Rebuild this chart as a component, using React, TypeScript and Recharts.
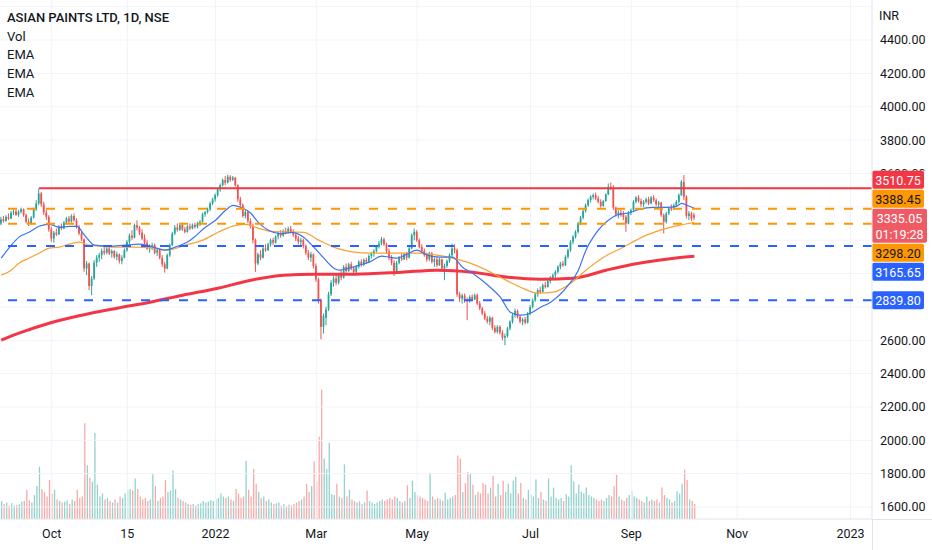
import React from 'react';
import { ComposedChart, Bar, Line, XAxis, YAxis, CartesianGrid, ReferenceLine, Cell } from 'recharts';

// daily candles, one row per session: [open, high, low, close]
const ohlc: [number, number, number, number][] = [
  [3300, 3340, 3290, 3325], [3325, 3345, 3305, 3315], [3315, 3350, 3310, 3340], [3340, 3360, 3320, 3330],
  [3330, 3375, 3325, 3365], [3365, 3385, 3350, 3372], [3372, 3392, 3345, 3352], [3352, 3380, 3340, 3370],
  [3370, 3395, 3360, 3385], [3385, 3390, 3340, 3350], [3350, 3360, 3300, 3310], [3310, 3330, 3285, 3300],
  [3300, 3345, 3295, 3335], [3335, 3395, 3330, 3385], [3385, 3440, 3375, 3420], [3420, 3510.75, 3410, 3480],
  [3480, 3490, 3400, 3415], [3415, 3430, 3350, 3365], [3365, 3385, 3320, 3340], [3340, 3350, 3250, 3265],
  [3265, 3280, 3190, 3210], [3210, 3255, 3185, 3245], [3245, 3270, 3225, 3235], [3235, 3290, 3230, 3282],
  [3282, 3300, 3260, 3270], [3270, 3315, 3265, 3305], [3305, 3340, 3295, 3330], [3330, 3345, 3300, 3312],
  [3312, 3355, 3305, 3345], [3345, 3360, 3310, 3320], [3320, 3330, 3270, 3280], [3280, 3290, 3230, 3240],
  [3240, 3250, 3195, 3205], [3205, 3210, 3010, 3030], [3030, 3075, 2990, 3060], [3060, 3065, 2900, 2925],
  [2925, 2985, 2870, 2970], [2970, 3080, 2960, 3065], [3065, 3110, 3040, 3095], [3095, 3125, 3070, 3110],
  [3110, 3150, 3085, 3135], [3135, 3160, 3110, 3125], [3125, 3165, 3115, 3150], [3150, 3160, 3110, 3120],
  [3120, 3145, 3095, 3135], [3135, 3140, 3090, 3100], [3100, 3130, 3080, 3115], [3115, 3120, 3060, 3075],
  [3075, 3110, 3055, 3095], [3095, 3150, 3090, 3140], [3140, 3200, 3130, 3190], [3190, 3240, 3175, 3228],
  [3228, 3260, 3200, 3215], [3215, 3300, 3210, 3290], [3290, 3320, 3260, 3275], [3275, 3285, 3230, 3245],
  [3245, 3265, 3200, 3210], [3210, 3235, 3170, 3185], [3185, 3200, 3140, 3150], [3150, 3175, 3125, 3160],
  [3160, 3185, 3140, 3170], [3170, 3180, 3115, 3125], [3125, 3150, 3105, 3140], [3140, 3150, 3085, 3095],
  [3095, 3110, 3040, 3055], [3055, 3070, 3005, 3030], [3030, 3120, 3025, 3110], [3110, 3180, 3100, 3170],
  [3170, 3250, 3165, 3240], [3240, 3290, 3230, 3275], [3275, 3300, 3250, 3262], [3262, 3300, 3255, 3290],
  [3290, 3305, 3255, 3265], [3265, 3280, 3240, 3250], [3250, 3290, 3245, 3282], [3282, 3300, 3260, 3270],
  [3270, 3300, 3265, 3292], [3292, 3305, 3270, 3280], [3280, 3310, 3270, 3300], [3300, 3320, 3285, 3310],
  [3310, 3365, 3305, 3355], [3355, 3375, 3340, 3368], [3368, 3395, 3360, 3385], [3385, 3430, 3375, 3420],
  [3420, 3455, 3410, 3445], [3445, 3480, 3430, 3470], [3470, 3515, 3460, 3505], [3505, 3540, 3490, 3530],
  [3530, 3570, 3520, 3560], [3560, 3585, 3530, 3545], [3545, 3593, 3540, 3580], [3580, 3590, 3550, 3562],
  [3562, 3585, 3555, 3575], [3575, 3580, 3520, 3530], [3530, 3535, 3430, 3445], [3445, 3460, 3395, 3410],
  [3410, 3420, 3335, 3345], [3345, 3380, 3330, 3370], [3370, 3375, 3300, 3315], [3315, 3330, 3270, 3285],
  [3285, 3300, 3180, 3200], [3200, 3210, 3010, 3060], [3060, 3125, 3050, 3115], [3115, 3140, 3080, 3095],
  [3095, 3160, 3090, 3150], [3150, 3175, 3130, 3140], [3140, 3185, 3135, 3175], [3175, 3210, 3160, 3200],
  [3200, 3215, 3170, 3185], [3185, 3230, 3180, 3222], [3222, 3250, 3205, 3240], [3240, 3260, 3215, 3228],
  [3228, 3265, 3220, 3255], [3255, 3275, 3235, 3245], [3245, 3280, 3240, 3268], [3268, 3285, 3240, 3250],
  [3250, 3265, 3220, 3232], [3232, 3245, 3195, 3210], [3210, 3225, 3175, 3190], [3190, 3215, 3170, 3200],
  [3200, 3210, 3150, 3165], [3165, 3175, 3110, 3125], [3125, 3140, 3080, 3095], [3095, 3130, 3070, 3115],
  [3115, 3120, 3030, 3045], [3045, 3060, 2950, 2965], [2965, 2975, 2820, 2840], [2840, 2850, 2605, 2680],
  [2680, 2760, 2640, 2745], [2735, 2800, 2690, 2785], [2785, 2890, 2775, 2875], [2875, 2960, 2865, 2945],
  [2945, 2985, 2920, 2970], [2970, 2990, 2930, 2945], [2945, 3000, 2935, 2990], [2990, 3020, 2960, 2975],
  [2975, 3050, 2970, 3040], [3040, 3060, 3005, 3015], [3015, 3065, 3010, 3055], [3055, 3070, 3020, 3030],
  [3030, 3045, 2995, 3010], [3010, 3050, 3000, 3040], [3040, 3080, 3030, 3070], [3070, 3085, 3040, 3052],
  [3052, 3090, 3045, 3082], [3082, 3095, 3060, 3070], [3070, 3115, 3065, 3105], [3105, 3130, 3090, 3120],
  [3120, 3145, 3100, 3135], [3135, 3170, 3125, 3160], [3160, 3195, 3150, 3180], [3180, 3220, 3170, 3205],
  [3205, 3215, 3165, 3175], [3175, 3185, 3120, 3135], [3135, 3150, 3080, 3095], [3095, 3110, 3050, 3065],
  [3065, 3080, 2985, 3010], [3010, 3075, 3000, 3065], [3065, 3105, 3055, 3095], [3095, 3120, 3075, 3085],
  [3085, 3125, 3080, 3115], [3115, 3130, 3080, 3095], [3095, 3160, 3090, 3150], [3150, 3240, 3145, 3230],
  [3230, 3270, 3200, 3250], [3250, 3260, 3190, 3200], [3200, 3210, 3150, 3160], [3160, 3175, 3120, 3135],
  [3135, 3150, 3100, 3110], [3110, 3125, 3070, 3085], [3085, 3130, 3075, 3120], [3120, 3130, 3060, 3070],
  [3070, 3095, 3040, 3085], [3085, 3100, 3040, 3050], [3050, 3095, 3045, 3085], [3085, 3090, 3020, 3030],
  [3030, 3060, 2960, 3045], [3045, 3085, 3035, 3075], [3075, 3120, 3065, 3110], [3110, 3180, 3100, 3150],
  [3150, 3175, 3120, 3140], [3140, 3150, 2860, 2875], [2875, 2890, 2830, 2850], [2850, 2880, 2820, 2868],
  [2868, 2880, 2825, 2840], [2840, 2855, 2720, 2835], [2835, 2870, 2825, 2860], [2860, 2875, 2835, 2845],
  [2845, 2880, 2840, 2870], [2870, 2880, 2810, 2820], [2820, 2835, 2780, 2790], [2790, 2800, 2750, 2760],
  [2760, 2775, 2720, 2730], [2730, 2745, 2700, 2712], [2712, 2745, 2690, 2735], [2735, 2740, 2660, 2675],
  [2675, 2690, 2640, 2650], [2650, 2690, 2640, 2680], [2680, 2690, 2635, 2645], [2645, 2660, 2600, 2615],
  [2615, 2640, 2570, 2625], [2625, 2680, 2615, 2670], [2670, 2720, 2660, 2710], [2710, 2760, 2700, 2750],
  [2750, 2790, 2735, 2775], [2775, 2785, 2730, 2740], [2740, 2750, 2700, 2712], [2712, 2735, 2690, 2725],
  [2725, 2740, 2695, 2705], [2705, 2770, 2700, 2760], [2760, 2810, 2750, 2800], [2800, 2850, 2790, 2840],
  [2840, 2885, 2830, 2875], [2875, 2910, 2860, 2900], [2900, 2920, 2880, 2890], [2890, 2940, 2885, 2930],
  [2930, 2950, 2910, 2920], [2920, 2965, 2915, 2955], [2955, 2985, 2940, 2975], [2975, 3000, 2960, 2990],
  [2990, 3020, 2975, 3010], [3010, 3050, 3000, 3040], [3040, 3070, 3025, 3060], [3060, 3075, 3040, 3050],
  [3050, 3110, 3045, 3100], [3100, 3150, 3090, 3140], [3140, 3200, 3130, 3190], [3190, 3230, 3175, 3220],
  [3220, 3260, 3210, 3250], [3250, 3310, 3240, 3300], [3300, 3345, 3290, 3335], [3335, 3385, 3325, 3375],
  [3375, 3420, 3365, 3410], [3410, 3450, 3400, 3440], [3440, 3470, 3425, 3460], [3460, 3480, 3445, 3470],
  [3470, 3485, 3440, 3450], [3450, 3465, 3420, 3430], [3430, 3445, 3395, 3405], [3405, 3440, 3400, 3435],
  [3435, 3480, 3430, 3475], [3475, 3540, 3470, 3520], [3520, 3545, 3500, 3515], [3515, 3530, 3380, 3395],
  [3395, 3400, 3340, 3355], [3355, 3380, 3330, 3365], [3365, 3385, 3340, 3350], [3350, 3375, 3320, 3340],
  [3340, 3350, 3250, 3300], [3300, 3375, 3295, 3365], [3365, 3390, 3350, 3380], [3380, 3440, 3375, 3430],
  [3430, 3465, 3420, 3455], [3455, 3470, 3425, 3435], [3435, 3450, 3400, 3415], [3415, 3440, 3400, 3430],
  [3430, 3455, 3420, 3445], [3445, 3460, 3410, 3420], [3420, 3465, 3415, 3455], [3455, 3470, 3430, 3440],
  [3440, 3450, 3405, 3415], [3415, 3435, 3395, 3425], [3425, 3430, 3340, 3350], [3350, 3360, 3240, 3310],
  [3310, 3370, 3300, 3360], [3360, 3400, 3350, 3392], [3392, 3415, 3375, 3385], [3385, 3420, 3380, 3410],
  [3410, 3440, 3400, 3430], [3430, 3480, 3420, 3470], [3470, 3560, 3465, 3550], [3550, 3590, 3440, 3460],
  [3460, 3470, 3330, 3345], [3345, 3375, 3320, 3360], [3360, 3370, 3315, 3330], [3350, 3365, 3320, 3335.05],
];

// traded volume per session, thousand shares
const volumes: number[] = [
  1200, 1000, 1100, 900, 1050, 900, 950, 1000, 1150, 1200,
  1950, 1250, 1100, 1600, 2200, 3500, 2000, 1800, 1500, 2600,
  1700, 1950, 1300, 1200, 1100, 1150, 1250, 1000, 1300, 1200,
  1950, 1400, 1500, 6400, 3600, 2750, 2500, 5750, 2300, 1500,
  1700, 1300, 1400, 1200, 1100, 1300, 1100, 1500, 1400, 1700,
  1950, 2000, 1900, 2700, 2000, 1500, 1300, 1400, 1200, 1300,
  3000, 2200, 1200, 1400, 1500, 2600, 1800, 1900, 3250, 2000,
  1400, 1300, 1200, 1100, 1000, 950, 1000, 900, 1000, 1050,
  1200, 1100, 1150, 1250, 1200, 1300, 1400, 1700, 1500, 1400,
  1500, 1300, 1200, 2000, 1700, 1400, 1500, 3900, 1950, 1500,
  3350, 2350, 1800, 1400, 1500, 1200, 1300, 1100, 1000, 1050,
  1100, 900, 1000, 850, 950, 900, 1000, 1100, 1200, 1300,
  1500, 2350, 1800, 2200, 3850, 2500, 5500, 8650, 4050, 3350,
  5100, 1650, 1600, 2350, 1500, 1400, 3650, 1500, 1950, 1300,
  1200, 1100, 1200, 1000, 1100, 1900, 1200, 1100, 1000, 1100,
  1200, 1300, 1200, 1300, 1400, 1300, 1500, 1400, 1200, 1100,
  1200, 2250, 1400, 2550, 1800, 1600, 1500, 1400, 1300, 1200,
  3100, 1500, 1300, 1400, 1300, 1200, 1750, 1300, 1400, 1500,
  1600, 4250, 4050, 1800, 2400, 3150, 3000, 2300, 1600, 1800,
  1700, 2400, 2300, 1700, 2100, 2900, 1500, 2350, 1600, 2550,
  1800, 2350, 1700, 2550, 2800, 1700, 2400, 1400, 1300, 1950,
  1600, 1500, 2650, 1400, 1800, 1300, 1200, 2700, 1500, 2100,
  1400, 1300, 1400, 1200, 1650, 1500, 3600, 2500, 1700, 2300,
  1800, 1700, 2100, 1600, 1500, 1400, 1300, 1200, 1300, 1200,
  1400, 1600, 1500, 2200, 2950, 1500, 1300, 1200, 1400, 1600,
  1850, 1500, 1400, 1300, 1200, 1100, 1500, 1200, 1300, 1200,
  1300, 1100, 2100, 1600, 1400, 1300, 1100, 1200, 1850, 1700,
  2350, 3300, 2600, 1300, 1200, 1000,
];

// EMA readings taken off the lines: [session, value]
const emaFast: [number, number][] = [
  [0, 3092], [4, 3170], [7, 3218], [11, 3247], [15, 3283], [19, 3295], [23, 3277], [27, 3283], [30, 3283],
  [33, 3230], [37, 3170], [43, 3164], [49, 3170], [55, 3176], [59, 3164], [65, 3140], [69, 3158], [75, 3200],
  [81, 3277], [85, 3319], [89, 3379], [92, 3409], [95, 3397], [99, 3361], [102, 3307], [106, 3259], [111, 3238],
  [115, 3247], [120, 3218], [124, 3158], [128, 3092], [132, 3032], [134, 3020], [138, 3032], [142, 3050],
  [146, 3068], [151, 3104], [154, 3098], [157, 3092], [161, 3116], [165, 3140], [169, 3110], [174, 3098],
  [179, 3098], [183, 3038], [187, 3002], [194, 2918], [198, 2858], [202, 2768], [206, 2750], [210, 2762],
  [214, 2798], [218, 2828], [225, 2930], [229, 3020], [232, 3140], [236, 3242], [242, 3331], [244, 3349],
  [250, 3367], [253, 3385], [259, 3397], [264, 3397], [268, 3403], [270, 3421], [272, 3409], [275, 3391],
];
const emaMid: [number, number][] = [
  [0, 2990], [4, 3020], [7, 3062], [11, 3092], [15, 3122], [19, 3152], [23, 3158], [27, 3176], [31, 3188],
  [35, 3170], [39, 3164], [44, 3158], [50, 3158], [53, 3158], [61, 3152], [66, 3140], [73, 3170], [80, 3200],
  [86, 3247], [93, 3289], [97, 3295], [102, 3271], [107, 3253], [120, 3247], [126, 3200], [133, 3152],
  [140, 3128], [146, 3122], [153, 3122], [159, 3122], [166, 3122], [173, 3110], [179, 3092], [186, 3062],
  [190, 3038], [198, 2978], [206, 2918], [213, 2882], [219, 2888], [226, 2942], [232, 3020], [239, 3098],
  [246, 3152], [252, 3200], [256, 3230], [264, 3271], [269, 3289], [273, 3301], [275, 3307],
];
const emaSlow: [number, number][] = [
  [0, 2600], [7, 2642], [19, 2702], [32, 2750], [46, 2792], [59, 2828], [72, 2870], [86, 2912], [99, 2960],
  [112, 2990], [124, 2996], [140, 2996], [159, 3008], [173, 3020], [187, 3008], [201, 2978], [214, 2966],
  [227, 2972], [240, 3020], [253, 3062], [267, 3092], [275, 3104],
];

const timeTicks = [20, 50, 85, 125, 165, 210, 250, 292, 337];
const timeLabels = ['Oct', '15', '2022', 'Mar', 'May', 'Jul', 'Sep', 'Nov', '2023'];
const priceTicks = [1600, 1800, 2000, 2200, 2400, 2600, 3600, 3800, 4000, 4200, 4400];
const gridPrices = [1600, 1800, 2000, 2200, 2400, 2600, 2800, 3000, 3200, 3400, 3600, 3800, 4000, 4200, 4400, 4600];

const resistance = 3510.75;
const resistanceFrom = 15;
const orangeLevels = [3388.45, 3298.2];
const blueLevels = [3165.65, 2839.8];
const lastPrice = 3335.05;
const countdown = '01:19:28';

const FONT = 'Roboto, "Noto Sans", sans-serif';
const UP = '#26a69a';
const DOWN = '#ef5350';
const RED = '#f23645';
const ORANGE = '#ff9800';
const BLUE = '#2962ff';
const BORDER = '#e0e3eb';

const W = 932;
const H = 550;
const AXIS_W = 60;
const AXIS_H = 31;
const PLOT_W = W - AXIS_W;
const PLOT_H = H - AXIS_H;
const P_MIN = 1528;
const P_MAX = 4640;
const X_DOMAIN: [number, number] = [-0.5, 345.5];

type Row = {
  i: number; o: number; h: number; l: number; c: number;
  range: [number, number]; v: number; up: boolean;
  fast: number | null; mid: number | null; slow: number | null;
};

const rows: Row[] = ohlc.map(([o, h, l, c], i) => ({
  i, o, h, l, c, range: [l, h], v: volumes[i], up: c >= o, fast: null, mid: null, slow: null,
}));
emaFast.forEach(([i, v]) => { rows[i].fast = v; });
emaMid.forEach(([i, v]) => { rows[i].mid = v; });
emaSlow.forEach(([i, v]) => { rows[i].slow = v; });

// price tags on the axis, stacked so they don't overlap (last price tag stays put)
type TagDef = { value: number; fill: string; color: string; extra?: string };
const tagDefs: TagDef[] = [
  { value: resistance, fill: RED, color: '#fff' },
  { value: orangeLevels[0], fill: ORANGE, color: '#131722' },
  { value: lastPrice, fill: '#f05a64', color: '#fff', extra: countdown },
  { value: orangeLevels[1], fill: ORANGE, color: '#131722' },
  { value: blueLevels[0], fill: BLUE, color: '#fff' },
  { value: blueLevels[1], fill: BLUE, color: '#fff' },
];
const pxOf = (v: number) => (PLOT_H * (P_MAX - v)) / (P_MAX - P_MIN);
const tagH = (t: TagDef) => (t.extra ? 34 : 18);
const tagTops: number[] = tagDefs.map((t) => pxOf(t.value) - 9);
const anchor = tagDefs.findIndex((t) => t.extra);
for (let k = anchor - 1; k >= 0; k--) tagTops[k] = Math.min(tagTops[k], tagTops[k + 1] - tagH(tagDefs[k]) - 1);
for (let k = anchor + 1; k < tagDefs.length; k++) tagTops[k] = Math.max(tagTops[k], tagTops[k - 1] + tagH(tagDefs[k - 1]) + 1);

const Candle = (props: any) => {
  const { x, y, width, height, payload } = props;
  if (!payload || x == null) return null;
  const { o, h, l, c } = payload as Row;
  const yHi = Math.min(y, y + height);
  const yLo = Math.max(y, y + height);
  const k = h > l ? (yLo - yHi) / (h - l) : 0;
  const yOf = (v: number) => yHi + (h - v) * k;
  const color = c >= o ? UP : DOWN;
  const top = yOf(Math.max(o, c));
  const bot = yOf(Math.min(o, c));
  const cx = x + width / 2;
  return (
    <g>
      <line x1={cx} x2={cx} y1={yHi} y2={yLo} stroke={color} strokeWidth={1} />
      <rect x={x} y={top} width={width} height={Math.max(bot - top, 1)} fill={color} />
    </g>
  );
};

// axis labels above the tag stack get cut where the tags begin, as in the terminal
const PriceTick = (props: any) => {
  const { x, y, payload } = props;
  const v = payload.value as number;
  const clipped = v > resistance;
  const id = 'clip-' + v;
  return (
    <g>
      {clipped && (
        <defs>
          <clipPath id={id}>
            <rect x={PLOT_W} y={0} width={AXIS_W} height={tagTops[0]} />
          </clipPath>
        </defs>
      )}
      <text x={x} y={y} dy="0.355em" textAnchor="start" fill="#131722" fontSize={12.5} fontFamily={FONT}
        clipPath={clipped ? `url(#${id})` : undefined}>{v.toFixed(2)}</text>
    </g>
  );
};

const makeTag = (idx: number) => (props: any) => {
  const vb = props.viewBox;
  if (!vb) return null;
  const t = tagDefs[idx];
  const x0 = vb.x + vb.width;
  const top = vb.y + (tagTops[idx] - pxOf(t.value));
  const w = t.extra ? 55 : 52;
  return (
    <g>
      <rect x={x0} y={top} width={w} height={tagH(t)} rx={2} fill={t.fill} />
      <text x={x0 + w / 2} y={top + 9.5} textAnchor="middle" dominantBaseline="central"
        fill={t.color} fontSize={12.5} fontFamily={FONT}>{t.value.toFixed(2)}</text>
      {t.extra && (
        <text x={x0 + w / 2} y={top + 25.5} textAnchor="middle" dominantBaseline="central"
          fill={t.color} fontSize={12.5} fontFamily={FONT}>{t.extra}</text>
      )}
    </g>
  );
};

const legendLines = ['Vol', 'EMA', 'EMA', 'EMA'];

export default function App() {
  const tick = { fontSize: 12.5, fill: '#131722', fontFamily: FONT };
  return (
    <div style={{ position: 'relative', width: W, height: H, background: '#fff', fontFamily: FONT }}>
      <style>{'body{margin:0}'}</style>

      <div style={{ position: 'absolute', left: 0, top: 0 }}>
        <ComposedChart width={W} height={H} data={rows} margin={{ top: 0, right: AXIS_W, bottom: AXIS_H, left: 0 }}>
          <XAxis dataKey="i" type="number" domain={X_DOMAIN} allowDataOverflow hide />
          <YAxis domain={[0, 34700]} allowDataOverflow hide />
          <Bar dataKey="v" barSize={1.3} isAnimationActive={false}>
            {rows.map((r) => (
              <Cell key={r.i} fill={r.up ? 'rgba(38,166,154,0.5)' : 'rgba(239,83,80,0.5)'} />
            ))}
          </Bar>
        </ComposedChart>
      </div>

      <div style={{ position: 'absolute', left: 0, top: 0 }}>
        <ComposedChart width={W} height={H} data={rows} margin={{ top: 0, right: 0, bottom: 0, left: 0 }}>
          <CartesianGrid stroke="#f0f3fa" horizontalValues={gridPrices} verticalValues={timeTicks} />
          <XAxis dataKey="i" type="number" domain={X_DOMAIN} allowDataOverflow ticks={timeTicks} interval={0}
            tickFormatter={(v: number) => timeLabels[timeTicks.indexOf(v)] ?? ''}
            height={AXIS_H} tickLine={false} axisLine={{ stroke: BORDER }} tick={tick} tickMargin={4} />
          <YAxis orientation="right" width={AXIS_W} domain={[P_MIN, P_MAX]} allowDataOverflow ticks={priceTicks}
            interval={0} tickLine={false} axisLine={{ stroke: BORDER }} tick={(p: any) => <PriceTick {...p} />} />

          <Bar dataKey="range" barSize={1.8} isAnimationActive={false} shape={(p: any) => <Candle {...p} />} />

          <Line dataKey="slow" type="monotone" stroke={RED} strokeWidth={3} dot={false} activeDot={false}
            connectNulls isAnimationActive={false} />
          <Line dataKey="mid" type="monotone" stroke="#f7a233" strokeWidth={1.2} dot={false} activeDot={false}
            connectNulls isAnimationActive={false} />
          <Line dataKey="fast" type="monotone" stroke="#3d72f0" strokeWidth={1.2} dot={false} activeDot={false}
            connectNulls isAnimationActive={false} />

          <ReferenceLine segment={[{ x: resistanceFrom, y: resistance }, { x: X_DOMAIN[1], y: resistance }]}
            stroke={RED} strokeWidth={2} />
          {orangeLevels.map((v) => (
            <ReferenceLine key={v} y={v} stroke={ORANGE} strokeWidth={2} strokeDasharray="9 10" />
          ))}
          {blueLevels.map((v) => (
            <ReferenceLine key={v} y={v} stroke={BLUE} strokeWidth={2} strokeDasharray="9 10" />
          ))}

          {tagDefs.map((t, idx) => (
            <ReferenceLine key={'tag' + idx} y={t.value} stroke="none" label={makeTag(idx)} />
          ))}
        </ComposedChart>
      </div>

      {/* pane borders run on through the axis corner */}
      <div style={{ position: 'absolute', left: PLOT_W, top: PLOT_H, width: 1, height: AXIS_H, background: BORDER }} />
      <div style={{ position: 'absolute', left: PLOT_W, top: PLOT_H, width: AXIS_W, height: 1, background: BORDER }} />

      <div style={{ position: 'absolute', left: 7, top: 9, color: '#131722', fontSize: 13, lineHeight: '18.7px' }}>
        <div style={{ fontWeight: 500 }}>ASIAN PAINTS LTD, 1D, NSE</div>
        {legendLines.map((s, k) => (
          <div key={k}>{s}</div>
        ))}
      </div>
      <div style={{ position: 'absolute', left: 879, top: 8, color: '#131722', fontSize: 12.5 }}>INR</div>
    </div>
  );
}
